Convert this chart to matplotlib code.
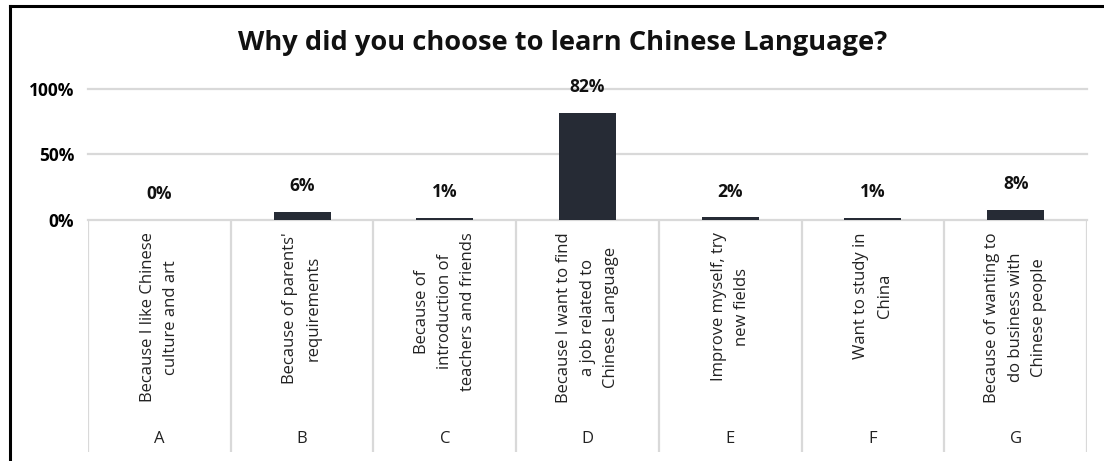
import matplotlib
matplotlib.use('Agg')
import matplotlib.pyplot as plt
from matplotlib.lines import Line2D
from matplotlib.ticker import FuncFormatter

plt.rcParams['font.family'] = ['Open Sans', 'DejaVu Sans']

# 数据
letters = ['A', 'B', 'C', 'D', 'E', 'F', 'G']
reasons = ['Because I like Chinese\nculture and art',
           "Because of parents'\nrequirements",
           'Because of\nintroduction of\nteachers and friends',
           'Because I want to find\na job related to\nChinese Language',
           'Improve myself, try\nnew fields',
           'Want to study in\nChina',
           'Because of wanting to\ndo business with\nChinese people']
values = [0.00, 0.06, 0.014, 0.82, 0.02, 0.014, 0.08]
yticks = [0, 0.5, 1.0]

W, H = 1104, 461
fig = plt.figure(figsize=(W / 100, H / 100), dpi=100)

# 主图区域 (像素位置换算成比例)
x0, x1 = 88, 1087
y_top, y_base, y_bot = 89, 220, 452
ax = fig.add_axes([x0 / W, 1 - y_base / H, (x1 - x0) / W, (y_base - y_top) / H])
n = len(values)
xs = list(range(n))
bar_color = '#262b35'
ax.bar(xs, values, width=0.4, color=bar_color, zorder=3)
ax.set_xlim(-0.5, n - 0.5)
ax.set_ylim(0, 1)
ax.set_yticks(yticks)
ax.yaxis.set_major_formatter(FuncFormatter(lambda v, p: f'{v:.0%}'))
ax.tick_params(axis='y', length=0, pad=10, labelsize=12.5)
for lab in ax.get_yticklabels():
    lab.set_fontweight('bold')
ax.set_xticks([])
for s in ax.spines.values():
    s.set_visible(False)
for yv in yticks:
    ax.axhline(yv, color='#d9d9d9', lw=1.6, zorder=1, clip_on=False)

# 数据标签
for x, v in zip(xs, values):
    ax.annotate(f'{v:.0%}', (x, v), xytext=(0, 12), textcoords='offset points',
                ha='center', va='bottom', fontsize=12.5, fontweight='bold',
                color='#111111', annotation_clip=False)

# 下面的分类区域
cax = fig.add_axes([x0 / W, 1 - y_bot / H, (x1 - x0) / W, (y_bot - y_base) / H])
cax.set_xlim(-0.5, n - 0.5)
cax.set_ylim(0, 1)
cax.axis('off')
for b in [i - 0.5 for i in range(n + 1)]:
    cax.axvline(b, color='#d9d9d9', lw=1.6)
for x, r, l in zip(xs, reasons, letters):
    cax.text(x, 0.947, r, rotation=90, ha='center', va='top', multialignment='center',
             fontsize=12, linespacing=1.6, color='#222222')
    cax.text(x, 0.058, l, ha='center', va='center', fontsize=12, color='#222222')

fig.text(563 / W, 1 - 43 / H, 'Why did you choose to learn Chinese Language?',
         ha='center', va='center', fontsize=19.6, fontweight='bold', color='#111111')

# 外框线 (上 + 左)
fig.add_artist(Line2D([10 / W, 1], [1 - 6 / H, 1 - 6 / H], color='black', lw=2.2,
                      transform=fig.transFigure))
fig.add_artist(Line2D([10 / W, 10 / W], [1 - 6 / H, 0], color='black', lw=2.2,
                      transform=fig.transFigure))

fig.savefig('out.png', dpi=100, facecolor='white')
